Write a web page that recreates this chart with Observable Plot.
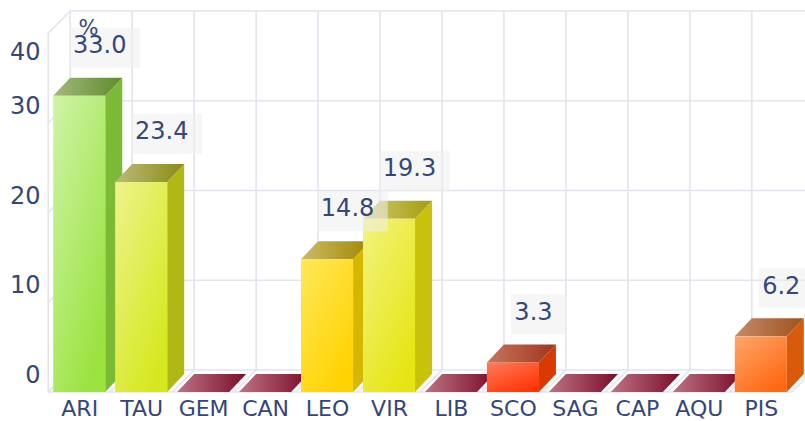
<!DOCTYPE html>
<html><head><meta charset="utf-8">
<script src="https://cdn.jsdelivr.net/npm/d3@7"></script>
<script src="https://cdn.jsdelivr.net/npm/@observablehq/plot@0.6"></script>
<style>body{margin:0;background:#fff}</style>
</head><body><div id="chart"></div>
<script>
// ---- data ----
const signs = ["ARI","TAU","GEM","CAN","LEO","VIR","LIB","SCO","SAG","CAP","AQU","PIS"];
const values = [33.0, 23.4, 0, 0, 14.8, 19.3, 0, 3.3, 0, 0, 0, 6.2];
const yTicks = [0, 10, 20, 30, 40];
const unitLabel = "%";

// ---- styles ----
const palette = {
  ARI: {front: ["#cff4a8", "#9ae23e"], side: "#7cb934", top: ["#a2b97c", "#5f8b2b"]},
  TAU: {front: ["#eef38c", "#d5e81e"], side: "#b0b816", top: ["#bbbb7a", "#8a8b12"]},
  LEO: {front: ["#ffe75a", "#ffd300"], side: "#d6b600", top: ["#cbbb66", "#a18800"]},
  VIR: {front: ["#f3f37e", "#e5e514"], side: "#c8c20a", top: ["#d2ca74", "#a39d0c"]},
  SCO: {front: ["#ff7c5c", "#ff3606"], side: "#d83a02", top: ["#c4765e", "#a1361a"]},
  PIS: {front: ["#ffa66a", "#ff6812"], side: "#d85a0a", top: ["#c48a68", "#a0521a"]}
};
const zeroStyle = {front: ["#bc7484", "#7c0c2a"], side: "#7c0c2a", top: ["#bc7484", "#7c0c2a"]};
const styleOf = s => palette[s] || zeroStyle;
const gridColor = "#e3e4ee";
const textColor = "#34467a";
const BAR = {dx: 17, dy: 18};   // bar depth offset (px)
const WALL = {dx: 22, dy: 22};  // back wall offset (px)
const FONT = "DejaVu Sans";
const VALUE_FS = 24;

const rows = signs.map((s, i) => ({sign: s, value: values[i], i}));

function defsMark() {
  const svg = d3.create("svg:defs");
  rows.forEach(({sign, i}) => {
    const st = styleOf(sign);
    const f = svg.append("linearGradient").attr("id", "front" + i)
      .attr("x1", 0).attr("y1", 0).attr("x2", 0.7).attr("y2", 1);
    f.append("stop").attr("offset", 0).attr("stop-color", st.front[0]);
    f.append("stop").attr("offset", 1).attr("stop-color", st.front[1]);
    const t = svg.append("linearGradient").attr("id", "top" + i)
      .attr("x1", 0).attr("y1", 0).attr("x2", 1).attr("y2", 0);
    t.append("stop").attr("offset", 0).attr("stop-color", st.top[0]);
    t.append("stop").attr("offset", 1).attr("stop-color", st.top[1]);
  });
  return svg.node();
}

function bounds(x) {
  const bw = x.bandwidth(), step = x.step(), gap = (step - bw) / 2;
  const b = signs.map(s => x(s) - gap);
  b.push(x(signs[signs.length - 1]) + bw + gap);
  return b;
}

function wallMark(index, {x, y}) {
  const g = d3.create("svg:g").attr("stroke", gridColor).attr("stroke-width", 1.6).attr("fill", "none");
  const b = bounds(x), b0 = b[0], bN = b[b.length - 1];
  const y0 = y(0), yTop = y(d3.max(yTicks));
  const line = (x1, y1, x2, y2) => g.append("line").attr("x1", x1).attr("y1", y1).attr("x2", x2).attr("y2", y2);
  for (const t of yTicks) line(b0 + WALL.dx, y(t) - WALL.dy, bN + WALL.dx, y(t) - WALL.dy);
  for (const bx of b) line(bx + WALL.dx, yTop - WALL.dy, bx + WALL.dx, y0 - WALL.dy);
  line(b0, yTop, b0, y0);
  for (const t of yTicks) line(b0, y(t), b0 + WALL.dx, y(t) - WALL.dy);
  for (const bx of b) line(bx, y0, bx + WALL.dx, y0 - WALL.dy);
  line(b0, y0, bN, y0);
  return g.node();
}

function bodyMark(index, {x, y}) {
  const g = d3.create("svg:g");
  const bw = x.bandwidth(), y0 = y(0);
  rows.forEach(({sign, value, i}) => {
    const xl = x(sign), xr = xl + bw, yt = y(value);
    if (value > 0) {
      g.append("path")
        .attr("d", `M${xr},${yt}L${xr + BAR.dx},${yt - BAR.dy}L${xr + BAR.dx},${y0 - BAR.dy}L${xr},${y0}Z`)
        .attr("fill", styleOf(sign).side);
    }
    g.append("path")
      .attr("d", `M${xl},${yt}L${xl + BAR.dx},${yt - BAR.dy}L${xr + BAR.dx},${yt - BAR.dy}L${xr},${yt}Z`)
      .attr("fill", `url(#top${i})`);
  });
  return g.node();
}

const labelRows = rows.filter(d => d.value > 0);
const LABEL_DX = 20, LABEL_DY = -51;

function boxMark(index, {x, y}) {
  const g = d3.create("svg:g");
  const ctx = document.createElement("canvas").getContext("2d");
  ctx.font = `${VALUE_FS}px "${FONT}"`;
  const bw = x.bandwidth();
  labelRows.forEach(({sign, value}) => {
    const tw = ctx.measureText(value.toFixed(1)).width;
    const cx = x(sign) + bw / 2 + LABEL_DX, cy = y(value) + LABEL_DY;
    g.append("rect").attr("x", cx - tw / 2 - 3).attr("y", cy - 17)
      .attr("width", tw + 17).attr("height", 40)
      .attr("fill", "#efefef").attr("fill-opacity", 0.55);
  });
  return g.node();
}

const chart = Plot.plot({
  width: 805,
  height: 421,
  marginLeft: 47,
  marginRight: 12,
  marginTop: 33,
  marginBottom: 29,
  style: {fontFamily: FONT, background: "#fff"},
  x: {type: "band", domain: signs, paddingInner: 0.16, paddingOuter: 0.1, round: false, axis: null},
  y: {domain: [0, d3.max(yTicks)], axis: null},
  color: {type: "identity"},
  marks: [
    defsMark,
    wallMark,
    bodyMark,
    Plot.barY(rows, {x: "sign", y: "value", fill: d => `url(#front${d.i})`}),
    boxMark,
    Plot.text(labelRows, {x: "sign", y: "value", text: d => d.value.toFixed(1), dx: LABEL_DX, dy: LABEL_DY, fontSize: VALUE_FS, fill: textColor}),
    Plot.axisY(yTicks.slice(0, -1), {tickSize: 0, tickPadding: 7, dy: -17, fontSize: 24, fill: textColor, label: null}),
    Plot.axisY(yTicks.slice(-1), {tickSize: 0, tickPadding: 7, dy: 19, fontSize: 24, fill: textColor, label: null}),
    Plot.axisX(signs, {tickSize: 0, tickPadding: 8, fontSize: 22, fill: textColor, label: null}),
    Plot.text([unitLabel], {frameAnchor: "top-left", textAnchor: "middle", dx: 41, dy: -13, fontSize: 21, fill: textColor})
  ]
});
document.getElementById("chart").appendChild(chart);
</script>
</body></html>
